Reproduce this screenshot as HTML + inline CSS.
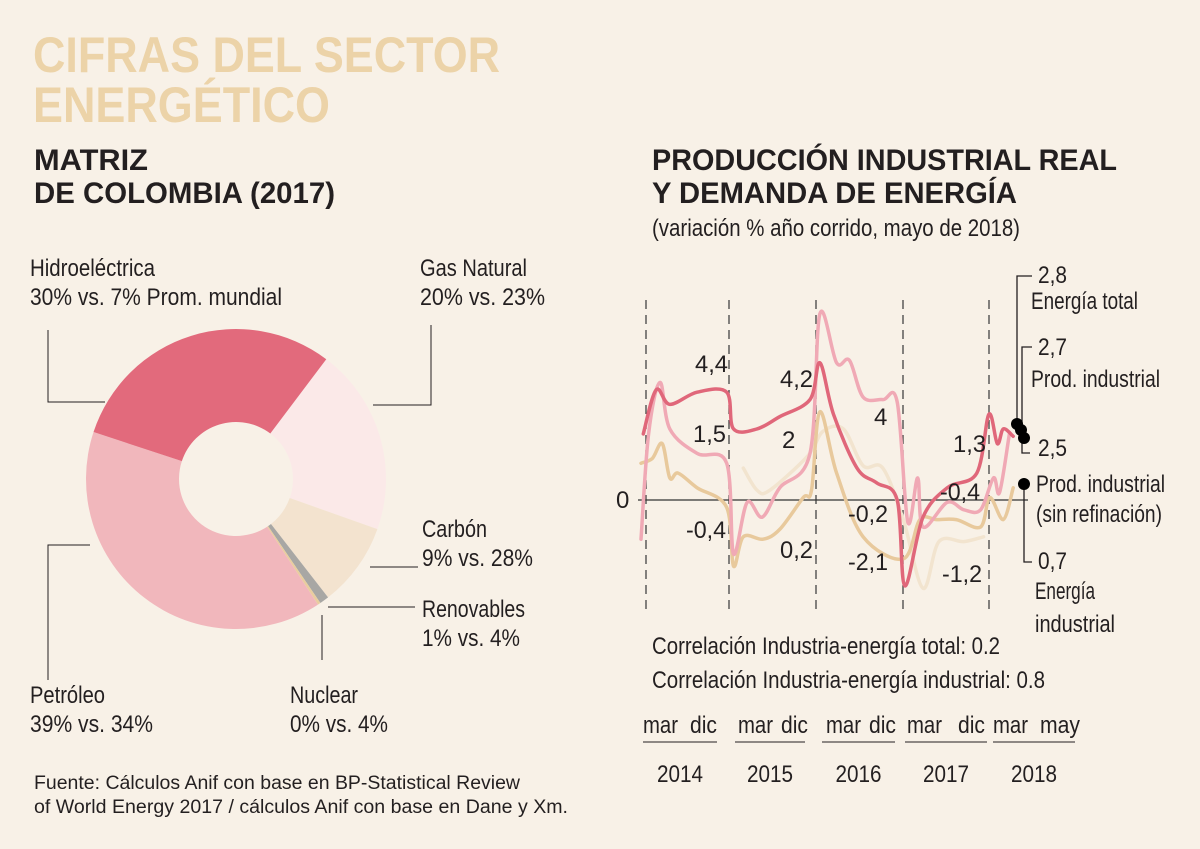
<!DOCTYPE html>
<html><head><meta charset="utf-8"><style>
html,body{margin:0;padding:0;background:#f8f1e7;}
svg{display:block;}
text{font-family:"Liberation Sans Narrow","Liberation Sans",sans-serif;fill:#231f20;}
.t{font-weight:bold;fill:#ecd3a8;font-size:50px;}
.h{font-weight:bold;font-size:30px;}
.l{font-size:24px;}
</style></head><body>
<svg id="chart" width="1200" height="849" viewBox="0 0 1200 849">
<rect width="1200" height="849" fill="#f8f1e7"/>
<text class="t" x="33" y="72" textLength="467" lengthAdjust="spacingAndGlyphs">CIFRAS DEL SECTOR</text>
<text class="t" x="33" y="122" textLength="297" lengthAdjust="spacingAndGlyphs">ENERGÉTICO</text>
<text class="h" x="34" y="170" textLength="114" lengthAdjust="spacingAndGlyphs">MATRIZ</text>
<text class="h" x="34" y="203" textLength="301" lengthAdjust="spacingAndGlyphs">DE COLOMBIA (2017)</text>
<text class="h" x="652" y="170" textLength="465" lengthAdjust="spacingAndGlyphs">PRODUCCIÓN INDUSTRIAL REAL</text>
<text class="h" x="652" y="203" textLength="365" lengthAdjust="spacingAndGlyphs">Y DEMANDA DE ENERGÍA</text>
<text class="l" x="652" y="236" textLength="368" lengthAdjust="spacingAndGlyphs">(variación % año corrido, mayo de 2018)</text>
<g id="donut"></g>
<g stroke="#231f20" stroke-width="1" fill="none">
<polyline points="48,330 48,402 105,402"/>
<polyline points="431,325 431,405 373,405"/>
<polyline points="370,567 418,567"/>
<polyline points="328,607 415,607"/>
<polyline points="322,615 322,660"/>
<polyline points="90,545 48,545 48,680"/>
</g>
<text class="l" x="30" y="276" textLength="125" lengthAdjust="spacingAndGlyphs">Hidroeléctrica</text>
<text class="l" x="30" y="305" textLength="252" lengthAdjust="spacingAndGlyphs">30% vs. 7% Prom. mundial</text>
<text class="l" x="420" y="276" textLength="107" lengthAdjust="spacingAndGlyphs">Gas Natural</text>
<text class="l" x="420" y="305" textLength="125" lengthAdjust="spacingAndGlyphs">20% vs. 23%</text>
<text class="l" x="422" y="537" textLength="65" lengthAdjust="spacingAndGlyphs">Carbón</text>
<text class="l" x="422" y="566" textLength="111" lengthAdjust="spacingAndGlyphs">9% vs. 28%</text>
<text class="l" x="422" y="617" textLength="103" lengthAdjust="spacingAndGlyphs">Renovables</text>
<text class="l" x="422" y="646" textLength="98" lengthAdjust="spacingAndGlyphs">1% vs. 4%</text>
<text class="l" x="290" y="703" textLength="68" lengthAdjust="spacingAndGlyphs">Nuclear</text>
<text class="l" x="290" y="732" textLength="98" lengthAdjust="spacingAndGlyphs">0% vs. 4%</text>
<text class="l" x="30" y="703" textLength="75" lengthAdjust="spacingAndGlyphs">Petróleo</text>
<text class="l" x="30" y="732" textLength="123" lengthAdjust="spacingAndGlyphs">39% vs. 34%</text>
<text x="34" y="789" font-size="19" textLength="486" lengthAdjust="spacingAndGlyphs">Fuente: Cálculos Anif con base en BP-Statistical Review</text>
<text x="34" y="813" font-size="19" textLength="534" lengthAdjust="spacingAndGlyphs">of World Energy 2017 / cálculos Anif con base en Dane y Xm.</text>
<g id="lines"></g>
<text class="l" x="616" y="508">0</text>
<g>
<text class="l" x="695" y="372" textLength="33" lengthAdjust="spacingAndGlyphs">4,4</text><text class="l" x="693" y="442" textLength="33" lengthAdjust="spacingAndGlyphs">1,5</text><text class="l" x="686" y="538" textLength="40" lengthAdjust="spacingAndGlyphs">-0,4</text>
<text class="l" x="780" y="387" textLength="33" lengthAdjust="spacingAndGlyphs">4,2</text><text class="l" x="782" y="448">2</text><text class="l" x="780" y="558" textLength="33" lengthAdjust="spacingAndGlyphs">0,2</text>
<text class="l" x="874" y="425">4</text><text class="l" x="848" y="522" textLength="40" lengthAdjust="spacingAndGlyphs">-0,2</text><text class="l" x="848" y="570" textLength="40" lengthAdjust="spacingAndGlyphs">-2,1</text>
<text class="l" x="953" y="452" textLength="33" lengthAdjust="spacingAndGlyphs">1,3</text><text class="l" x="940" y="500" textLength="40" lengthAdjust="spacingAndGlyphs">-0,4</text><text class="l" x="942" y="582" textLength="40" lengthAdjust="spacingAndGlyphs">-1,2</text>
</g>
<g stroke="#231f20" stroke-width="1.3" fill="none">
<polyline points="1032,276 1017,276 1017,425"/>
<polyline points="1032,347 1022,347 1022,453 1030,453"/>
<polyline points="1024,484 1024,562 1032,562"/>
</g>
<g fill="#000">
<circle cx="1017" cy="424" r="6"/><circle cx="1021" cy="430" r="6"/><circle cx="1024" cy="438" r="6"/><circle cx="1024" cy="484" r="6"/>
</g>
<text class="l" x="1038" y="283" textLength="29" lengthAdjust="spacingAndGlyphs">2,8</text>
<text class="l" x="1031" y="309" textLength="107" lengthAdjust="spacingAndGlyphs">Energía total</text>
<text class="l" x="1038" y="355" textLength="29" lengthAdjust="spacingAndGlyphs">2,7</text>
<text class="l" x="1031" y="387" textLength="129" lengthAdjust="spacingAndGlyphs">Prod. industrial</text>
<text class="l" x="1038" y="456" textLength="29" lengthAdjust="spacingAndGlyphs">2,5</text>
<text class="l" x="1036" y="492" textLength="129" lengthAdjust="spacingAndGlyphs">Prod. industrial</text>
<text class="l" x="1036" y="522" textLength="126" lengthAdjust="spacingAndGlyphs">(sin refinación)</text>
<text class="l" x="1038" y="569" textLength="29" lengthAdjust="spacingAndGlyphs">0,7</text>
<text class="l" x="1035" y="599" textLength="60" lengthAdjust="spacingAndGlyphs">Energía</text>
<text class="l" x="1035" y="632" textLength="80" lengthAdjust="spacingAndGlyphs">industrial</text>
<text class="l" x="652" y="654" textLength="348" lengthAdjust="spacingAndGlyphs">Correlación Industria-energía total: 0.2</text>
<text class="l" x="652" y="688" textLength="393" lengthAdjust="spacingAndGlyphs">Correlación Industria-energía industrial: 0.8</text>
<g id="xaxis"></g>
</svg>
<script>
const sliceNames=["Gas Natural","Carbón","Renovables","Nuclear","Petróleo","Hidroeléctrica"];
const sliceValues=[20,9,1,0.3,39,30];
const sliceColors=["#fbe9e8","#f3e3cf","#a8a7a4","#e9cd9f","#f1b7bc","#e26a7c"];
const monthsRed=[0.3,2,3.8,7.4,11.3,12.2,15.3,18.3,22.3,23.6,25.4,28.5,31.1,33.8,34.8,37.2,40.4,44.3,45.9,47,47.8,49.1];
const valuesRed=[2.7,4.5,3.9,4.4,4.4,2.9,2.9,3.4,4.1,5.6,3.5,1.3,0.7,0,-3.5,-0.7,0.5,1.1,3.5,2.3,2.9,2.6];
const monthsPink=[0,1,2.5,3.8,7.4,11.3,12.2,14,16,18.3,22.3,23.6,25.8,27.5,29.3,31.9,33.8,35.2,36.5,37.2,40.4,42.6,44.8,46.5,47.3,48.6];
const valuesPink=[-1.6,2.7,4.8,2.9,1.9,1.5,-2.2,-0.1,-0.7,0.5,1.9,7.6,5.6,5.7,4.2,4.1,4.0,-0.9,0.9,-1.1,-0.1,-0.4,-0.4,0.9,0.3,2.7];
const monthsTan=[0,1.5,2.8,3.8,4.9,7.4,11.3,12.2,13.5,16.1,18.3,21.4,22.5,23.6,25.8,29.3,34.6,36.8,39,41.6,44.8,46,47.8,49.1];
const valuesTan=[1.5,1.7,2.3,0.9,1.1,0.5,-0.3,-2.7,-1.5,-1.6,-1.2,0.1,0.4,3.6,1.1,-1.5,-2.4,-0.8,-0.8,-0.8,-1.1,0.1,-0.8,0.5];
const monthsLight=[13.5,15.3,17,22,24,26.7,29.3,31.9,34.6,37.2,39.3,42.6,45.2];
const valuesLight=[1.3,0.4,0.4,1.8,2.8,2.9,1.4,1.3,-0.8,-3.6,-1.7,-1.7,-1.5];
const xTickLabels=["mar","dic","mar","dic","mar","dic","mar","dic","mar","may"];
const yearLabels=["2014","2015","2016","2017","2018"];
const NS="http://www.w3.org/2000/svg";
function mk(tag,attrs,parent){const e=document.createElementNS(NS,tag);for(const k in attrs)e.setAttribute(k,attrs[k]);parent.appendChild(e);return e;}
// donut
const cx=236,cy=479,R=150,r=57;
const donut=document.getElementById('donut');
let total=sliceValues.reduce((a,b)=>a+b,0);
let ang=37*Math.PI/180;
function pt(a,rad){return [cx+rad*Math.sin(a),cy-rad*Math.cos(a)];}
sliceValues.forEach((v,i)=>{
 const a2=ang+v/total*2*Math.PI;
 const [x1,y1]=pt(ang,R),[x2,y2]=pt(a2,R),[x3,y3]=pt(a2,r),[x4,y4]=pt(ang,r);
 const lg=(a2-ang)>Math.PI?1:0;
 const p=mk('path',{d:`M${x1},${y1}A${R},${R} 0 ${lg} 1 ${x2},${y2}L${x3},${y3}A${r},${r} 0 ${lg} 0 ${x4},${y4}Z`,fill:sliceColors[i]},donut);
 
 
 ang=a2;
});
// line chart
const g=document.getElementById('lines');
const X=m=>641+m*7.58, Y=v=>500-v*24.5;
[646,729,816,903,989].forEach((x,i)=>{
 const l=mk('line',{x1:x,x2:x,y1:300,y2:612,stroke:'#444','stroke-width':1.3,'stroke-dasharray':'9,6'},g);
 
 
});
const z=mk('line',{x1:638,x2:1028,y1:Y(0),y2:Y(0),stroke:'#333','stroke-width':1.2},g);


function series(ms,vs,color,name){
 const P=ms.map((m,i)=>[X(m),Y(vs[i])]);
 let d='M'+P[0][0].toFixed(1)+','+P[0][1].toFixed(1);
 for(let i=0;i<P.length-1;i++){
  const p0=P[i-1]||P[i],p1=P[i],p2=P[i+1],p3=P[i+2]||p2;
  const c1=[p1[0]+(p2[0]-p0[0])/6,p1[1]+(p2[1]-p0[1])/6];
  const c2=[p2[0]-(p3[0]-p1[0])/6,p2[1]-(p3[1]-p1[1])/6];
  d+=`C${c1[0].toFixed(1)},${c1[1].toFixed(1)} ${c2[0].toFixed(1)},${c2[1].toFixed(1)} ${p2[0].toFixed(1)},${p2[1].toFixed(1)}`;
 }
 const p=mk('path',{d,fill:'none',stroke:color,'stroke-width':3.5,'stroke-linejoin':'round','stroke-linecap':'round'},g);
 
 
}
series(monthsLight,valuesLight,'#f2e4cf','series-energia-industrial-light');
series(monthsTan,valuesTan,'#e8c99c','series-prod-sin-refinacion');
series(monthsPink,valuesPink,'#f0a9b5','series-prod-industrial');
series(monthsRed,valuesRed,'#e0677a','series-energia-total');
// x axis
const xa=document.getElementById('xaxis');
const tickX=[643,690,738,781,826,869,907,958,993,1040];
xTickLabels.forEach((t,i)=>{
 const e=mk('text',{x:tickX[i],y:733,'font-size':24,textLength:t==='mar'?35:(t==='may'?40:27),lengthAdjust:'spacingAndGlyphs'},xa);e.textContent=t;
 
 
});
[[643,717],[735,805],[822,895],[905,987],[993,1075]].forEach((s,i)=>{
 const l=mk('line',{x1:s[0],x2:s[1],y1:742,y2:742,stroke:'#231f20','stroke-width':1},xa);
 
 
 const e=mk('text',{x:(s[0]+s[1])/2,y:782,'font-size':24,'text-anchor':'middle',textLength:46,lengthAdjust:'spacingAndGlyphs'},xa);e.textContent=yearLabels[i];
 
 
});
</script>
</body></html>
